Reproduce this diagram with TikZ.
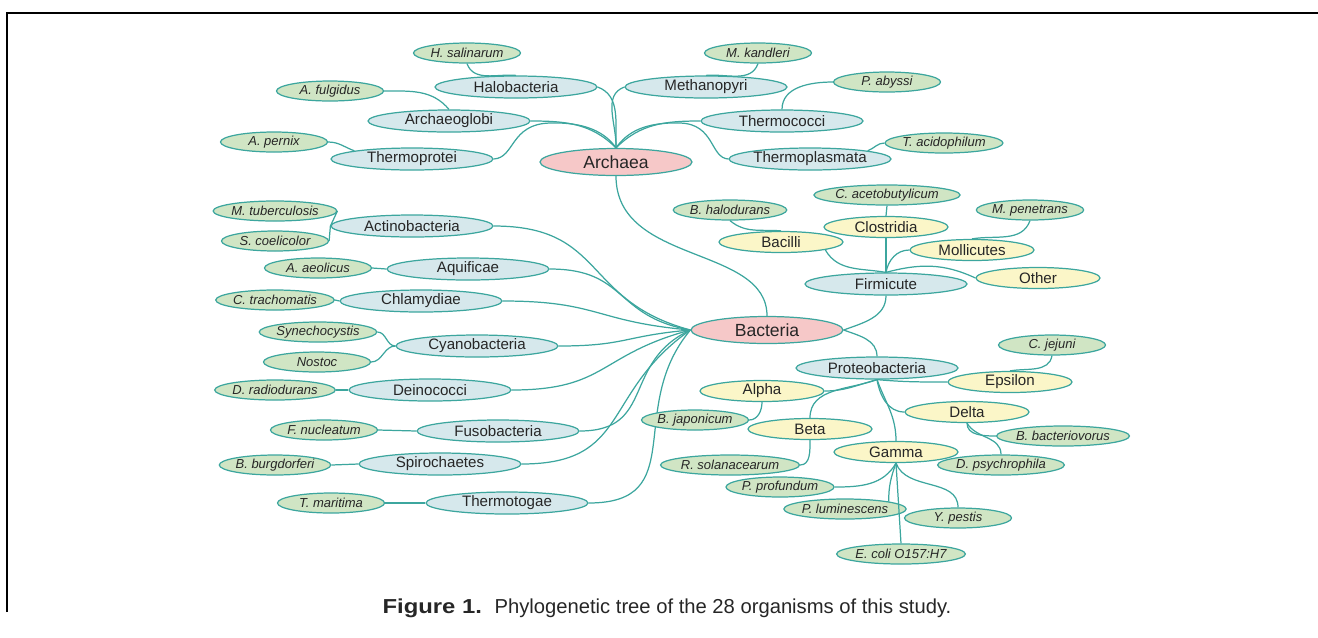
\documentclass[tikz,border=0pt]{standalone}
\usepackage{fontspec}
\setmainfont{Liberation Sans}
\usetikzlibrary{shapes.geometric}

\definecolor{linkteal}{RGB}{60,166,158}
\definecolor{domainpink}{RGB}{246,200,200}
\definecolor{phylumblue}{RGB}{214,232,236}
\definecolor{classyellow}{RGB}{251,246,200}
\definecolor{speciesgreen}{RGB}{208,229,196}

\begin{document}
\begin{tikzpicture}[x=0.02cm,y=0.02cm,
    every node/.style={ellipse,draw=linkteal,line width=0.7pt,inner sep=0pt,text=black!85},
    domainnode/.style={fill=domainpink,minimum width=3.04cm,minimum height=0.54cm,font=\fontsize{10}{11}\selectfont},
    phylum/.style={fill=phylumblue,minimum width=3.24cm,minimum height=0.44cm,font=\fontsize{8.6}{10}\selectfont},
    clade/.style={fill=classyellow,minimum width=2.48cm,minimum height=0.42cm,font=\fontsize{8.6}{10}\selectfont},
    species/.style={fill=speciesgreen,minimum width=2.14cm,minimum height=0.40cm,font=\fontsize{7.4}{9}\selectfont\itshape},
    link/.style={draw=linkteal,line width=0.7pt}]
    \useasboundingbox (0,0) rectangle (1318,-637);
    \draw[line width=1pt] (7,-612) -- (7,-13) -- (1318,-13);

    % Archaea
    \node[domainnode] (archaea) at (616,-162) {Archaea};
    \node[phylum] (halo) at (516,-87) {Halobacteria};
    \node[phylum] (methano) at (706,-87) {Methanopyri};
    \node[phylum] (archaeo) at (449,-121) {Archaeoglobi};
    \node[phylum] (thermococ) at (782,-121) {Thermococci};
    \node[phylum] (thermoprot) at (412,-159) {Thermoprotei};
    \node[phylum] (thermoplas) at (810,-159) {Thermoplasmata};
    \node[species] (hsal) at (467,-53) {H. salinarum};
    \node[species] (mkan) at (758,-53) {M. kandleri};
    \node[species] (aful) at (330,-91) {A. fulgidus};
    \node[species] (paby) at (887,-82) {P. abyssi};
    \node[species] (aper) at (274,-142) {A. pernix};
    \node[species] (taci) at (944,-143) {T. acidophilum};

    \draw[link] (halo.east) to[out=-20,in=92] (archaea.north);
    \draw[link] (methano.west) to[out=200,in=88] (archaea.north);
    \draw[link] (archaeo.east) to[out=0,in=135] (archaea.north);
    \draw[link] (thermococ.west) to[out=180,in=45] (archaea.north);
    \draw[link] (thermoprot.east) .. controls (515,-158) and (510,-124) .. (550,-123)
        .. controls (585,-122) and (605,-132) .. (archaea.north);
    \draw[link] (thermoplas.west) .. controls (710,-158) and (715,-124) .. (680,-123)
        .. controls (645,-122) and (627,-132) .. (archaea.north);
    \draw[link] (hsal.south) to[out=-70,in=175] (halo.north);
    \draw[link] (mkan.south) to[out=-110,in=5] (methano.north);
    \draw[link] (aful.east) to[out=0,in=130] (archaeo.north);
    \draw[link] (paby.west) to[out=180,in=90] (thermococ.north);
    \draw[link] (aper.east) to[out=0,in=160] (thermoprot.north west);
    \draw[link] (taci.west) to[out=180,in=20] (thermoplas.north east);

    % Bacteria
    \node[domainnode] (bacteria) at (767,-330) {Bacteria};
    \draw[link] (archaea.south) .. controls (616,-265) and (767,-245) .. (bacteria.north);

    \node[phylum] (actino) at (412,-226) {Actinobacteria};
    \node[phylum] (aquif) at (468,-269) {Aquificae};
    \node[phylum] (chlamy) at (421,-301) {Chlamydiae};
    \node[phylum] (cyano) at (477,-346) {Cyanobacteria};
    \node[phylum] (deino) at (430,-390) {Deinococci};
    \node[phylum] (fuso) at (498,-431) {Fusobacteria};
    \node[phylum] (spiro) at (440,-464) {Spirochaetes};
    \node[phylum] (thermot) at (507,-503) {Thermotogae};
    \node[species] (mtub) at (275,-211) {M. tuberculosis};
    \node[species] (scoel) at (275,-241) {S. coelicolor};
    \node[species] (aaeo) at (318,-268) {A. aeolicus};
    \node[species] (ctra) at (275,-300) {C. trachomatis};
    \node[species] (syne) at (318,-332) {Synechocystis};
    \node[species] (nostoc) at (317,-362) {Nostoc};
    \node[species] (drad) at (275,-390) {D. radiodurans};
    \node[species] (fnuc) at (324,-430) {F. nucleatum};
    \node[species] (bbur) at (275,-465) {B. burgdorferi};
    \node[species] (tmar) at (331,-503) {T. maritima};

    \foreach \p/\i in {actino/165,aquif/170,chlamy/175,cyano/185,deino/195,fuso/205,spiro/215,thermot/230}
        \draw[link] (\p.east) to[out=0,in=\i,looseness=1.3] (bacteria.west);
    \foreach \s/\p in {aaeo/aquif,ctra/chlamy,drad/deino,fnuc/fuso,bbur/spiro,tmar/thermot}
        \draw[link] (\s.east) -- (\p.west);
    \draw[link] (mtub.east) -- (actino.west) -- (scoel.east);
    \draw[link] (syne.east) to[out=0,in=180] (cyano.west);
    \draw[link] (nostoc.east) to[out=0,in=180] (cyano.west);

    % Firmicute
    \node[phylum] (firm) at (886,-284) {Firmicute};
    \node[clade] (clos) at (886,-227) {Clostridia};
    \node[clade] (bacilli) at (781,-242) {Bacilli};
    \node[clade] (moll) at (972,-250) {Mollicutes};
    \node[clade] (other) at (1038,-278) {Other};
    \node[species] (cace) at (887,-195) {C. acetobutylicum};
    \node[species] (bhal) at (730,-210) {B. halodurans};
    \node[species] (mpen) at (1030,-210) {M. penetrans};

    \draw[link] (bacteria.east) to[out=20,in=-90] (firm.south);
    \draw[link] (clos.south) -- (firm.north);
    \draw[link] (cace.south) -- (clos.north);
    \draw[link] (bacilli.south east) to[out=-60,in=170] (firm.north);
    \draw[link] (moll.west) to[out=180,in=80] (firm.north);
    \draw[link] (other.west) to[out=155,in=15] (firm.north);
    \draw[link] (bhal.south) to[out=-40,in=175] (bacilli.north);
    \draw[link] (mpen.south) to[out=-110,in=10] (moll.north);

    % Proteobacteria
    \node[phylum] (proteo) at (877,-368) {Proteobacteria};
    \node[clade] (eps) at (1010,-382) {Epsilon};
    \node[clade] (alpha) at (762,-391) {Alpha};
    \node[clade] (delta) at (967,-412) {Delta};
    \node[clade] (beta) at (810,-429) {Beta};
    \node[clade] (gamma) at (896,-452) {Gamma};
    \node[species] (cjej) at (1052,-345) {C. jejuni};
    \node[species] (bjap) at (695,-420) {B. japonicum};
    \node[species] (bbac) at (1063,-436) {B. bacteriovorus};
    \node[species] (rsol) at (730,-465) {R. solanacearum};
    \node[species] (dpsy) at (1001,-465) {D. psychrophila};
    \node[species] (pprof) at (780,-487) {P. profundum};
    \node[species] (plum) at (845,-509) {P. luminescens};
    \node[species] (ypest) at (958,-518) {Y. pestis};
    \node[species] (ecoli) at (901,-554) {E. coli O157:H7};

    \draw[link] (bacteria.east) to[out=-20,in=90] (proteo.north);
    \draw[link] (proteo.south) to[out=-5,in=180] (eps.west);
    \draw[link] (proteo.south) to[out=195,in=0] (alpha.east);
    \draw[link] (proteo.south) to[out=200,in=90] (beta.north);
    \draw[link] (proteo.south) to[out=-80,in=180] (delta.west);
    \draw[link] (proteo.south) to[out=-70,in=90] (gamma.north);
    \draw[link] (cjej.south) to[out=-100,in=10] (eps.north);
    \draw[link] (alpha.south) to[out=-90,in=0] (bjap.east);
    \draw[link] (beta.south) to[out=-90,in=0] (rsol.east);
    \draw[link] (delta.south) to[out=-90,in=180] (bbac.west);
    \draw[link] (delta.south) to[out=-60,in=90] (dpsy.north);
    \draw[link] (gamma.south) to[out=-120,in=0] (pprof.east);
    \draw[link] (gamma.south) to[out=-110,in=90] (plum.north east);
    \draw[link] (gamma.south) -- (ecoli.north);
    \draw[link] (gamma.south) to[out=-70,in=90] (ypest.north);

    % caption
    \node[draw=none,shape=rectangle,anchor=base west,font=\fontsize{11.5}{13}\selectfont\bfseries\addfontfeature{FakeStretch=1.18}] (figlabel) at (382,-613) {Figure 1.};
    \node[draw=none,shape=rectangle,anchor=base west,font=\fontsize{11.5}{13}\selectfont] (figtext) at (494,-613) {Phylogenetic tree of the 28 organisms of this study.};
\end{tikzpicture}
\end{document}
